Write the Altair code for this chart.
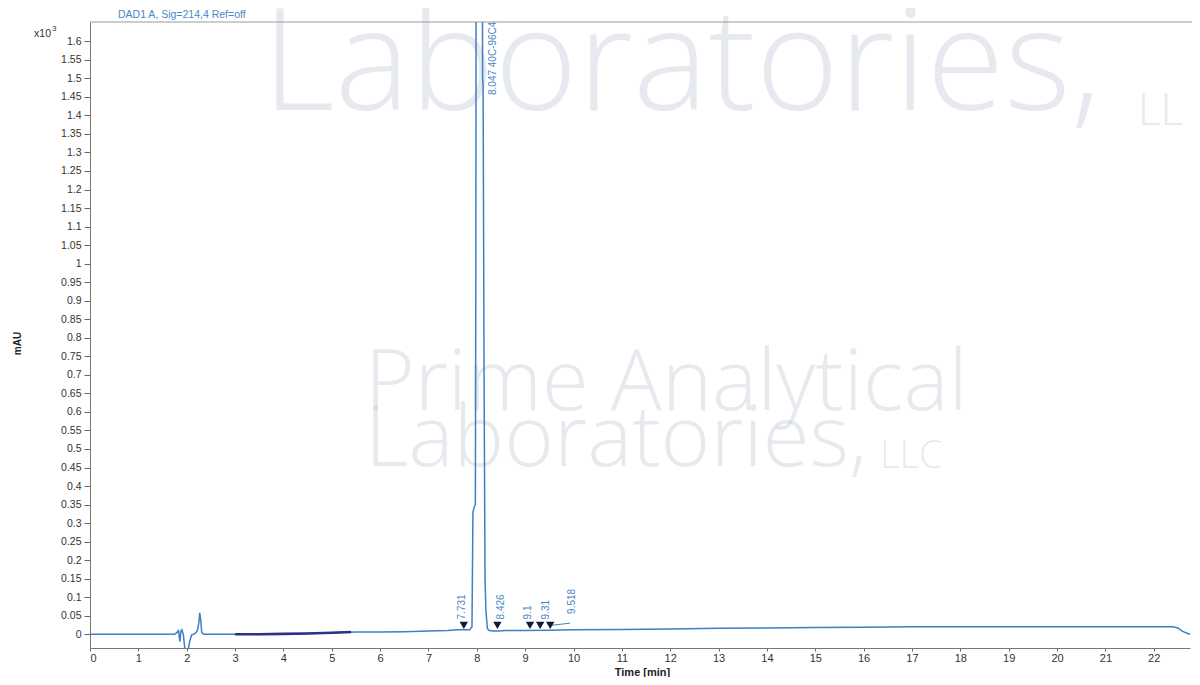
import altair as alt
import pandas as pd

# ---- chromatogram trace (time in min, signal in x10^3 mAU) ----
time_min = [0.0, 1.75, 1.80, 1.83, 1.86, 1.88, 1.90, 1.93, 1.97, 2.02, 2.06, 2.10,
            2.14, 2.18, 2.22, 2.25, 2.27, 2.29, 2.31, 2.35, 2.6, 3.0, 3.5, 4.0,
            4.5, 5.0, 5.5, 6.0, 6.5, 7.0, 7.4, 7.6, 7.75, 7.85, 7.90, 7.92, 7.95,
            7.97, 7.98, 7.99, 8.05, 8.10, 8.12, 8.13, 8.15, 8.17, 8.19, 8.22, 8.26,
            8.35, 8.45, 8.6, 9.0, 9.5, 10.0, 11.0, 12.0, 13.0, 14.0, 15.0, 16.0,
            17.0, 18.0, 19.0, 20.0, 21.0, 22.0, 22.4, 22.5, 22.6, 22.7, 22.75]
signal = [0.0, 0.0, 0.005, 0.01, -0.02, 0.008, 0.012, 0.0, -0.05, -0.05, -0.02, -0.002,
          0.0, 0.003, 0.01, 0.03, 0.058, 0.04, 0.005, 0.0, 0.0, 0.0, 0.0, 0.001,
          0.002, 0.004, 0.006, 0.006, 0.007, 0.009, 0.010, 0.012, 0.012, 0.012, 0.02, 0.33, 0.345,
          0.35, 1.0, 2.5, 3.0, 2.5, 1.5, 1.48, 0.7, 0.15, 0.06, 0.015, 0.010,
          0.009, 0.009, 0.010, 0.010, 0.011, 0.012, 0.013, 0.014, 0.016, 0.017, 0.018, 0.019,
          0.020, 0.020, 0.020, 0.020, 0.020, 0.020, 0.020, 0.017, 0.008, 0.002, 0.0]

# darker overlaid stretch of baseline
seg_time = [3.0, 3.5, 4.0, 4.5, 5.0, 5.4]
seg_signal = [0.0, 0.0, 0.001, 0.002, 0.004, 0.006]

# ---- integration events ----
peak_rt = [7.731, 8.426, 9.1, 9.31, 9.518]
peak_text = ["7.731", "8.426", "9.1", "9.31", "9.518"]
marker_level = [0.024, 0.024, 0.024, 0.024, 0.024]
label_rt = [7.70, 8.50, 9.05, 9.44, 9.96]
label_level = [0.040, 0.040, 0.040, 0.040, 0.055]

leader_t = [9.53]
leader_t2 = [9.93]
leader_v = [0.024]
leader_v2 = [0.030]

main_rt = [8.33]
main_text = ["8.047 40C-96C4"]
main_level = [1.455]

# ---- axes ----
x_ticks = [0, 1, 2, 3, 4, 5, 6, 7, 8, 9, 10, 11, 12, 13, 14, 15, 16, 17, 18, 19, 20, 21, 22]
y_ticks = [0.0, 0.05, 0.1, 0.15, 0.2, 0.25, 0.3, 0.35, 0.4, 0.45, 0.5, 0.55, 0.6, 0.65,
           0.7, 0.75, 0.8, 0.85, 0.9, 0.95, 1.0, 1.05, 1.1, 1.15, 1.2, 1.25, 1.3,
           1.35, 1.4, 1.45, 1.5, 1.55, 1.6]

header = ["DAD1 A, Sig=214,4 Ref=off"]
watermark_top = ["Laboratories,"]
watermark_top_ll = ["LL"]
watermark_mid1 = ["Prime Analytical"]
watermark_mid2 = ["Laboratories,"]
watermark_llc = ["LLC"]

W, H = 1100, 626
BLUE = "#3f7fc4"
LABEL_BLUE = "#4a86c8"
FONT = "Liberation Sans"

xs = alt.Scale(domain=[0, 22.75], nice=False, zero=False)
ys = alt.Scale(domain=[-0.037, 1.652], nice=False, zero=False)

x_axis = alt.Axis(values=x_ticks, title="Time [min]", grid=False,
                  labelFont=FONT, labelFontSize=11, labelColor="#333",
                  tickSize=3, tickColor="#666", domainColor="#777",
                  labelPadding=1, titleFont=FONT, titleFontSize=11,
                  titleFontWeight="bold", titleColor="#222",
                  titleX=552, titleY=29, titleBaseline="bottom",
                  titleAlign="center")
y_axis = alt.Axis(values=y_ticks, format=".2~f", title="mAU", grid=False,
                  labelFont=FONT, labelFontSize=10.5, labelColor="#333",
                  tickSize=6, tickColor="#666", domainColor="#777",
                  labelPadding=3, labelOverlap=False, labelBound=False,
                  titleFont=FONT, titleFontSize=10, titleFontWeight="bold",
                  titleColor="#222", titleX=-68, titleY=321)

trace_df = pd.DataFrame({"t": time_min, "v": signal})
seg_df = pd.DataFrame({"t": seg_time, "v": seg_signal})
peaks_df = pd.DataFrame({"t": peak_rt, "v": marker_level, "lt": label_rt,
                         "lv": label_level, "label": peak_text})
leader_df = pd.DataFrame({"t": leader_t, "t2": leader_t2, "v": leader_v, "v2": leader_v2})
main_df = pd.DataFrame({"t": main_rt, "v": main_level, "label": main_text})


def X(field):
    return alt.X(field, scale=xs, axis=x_axis)


def Y(field):
    return alt.Y(field, scale=ys, axis=y_axis)


def wm(text, x, y, size, weight=300, opacity=0.33, color="#b4c2cf"):
    return alt.Chart(pd.DataFrame({"s": text})).mark_text(
        font="Open Sans", fontSize=size, fontWeight=weight, align="left",
        baseline="alphabetic", color=color, opacity=opacity
    ).encode(x=alt.value(x), y=alt.value(y), text="s:N")


wm_layers = [
    wm(watermark_top, 172, 88, 142),
    wm(watermark_top_ll, 1048, 103, 44),
    wm(watermark_mid1, 275, 388, 85),
    wm(watermark_mid2, 275, 444, 85),
    wm(watermark_llc, 790, 446, 38),
]

top_rule = alt.Chart(pd.DataFrame({"a": [0]})).mark_rule(color="#9a9a9a", strokeWidth=1).encode(
    x=alt.value(0), x2=alt.value(W + 2), y=alt.value(0)
)

trace = alt.Chart(trace_df).mark_line(color=BLUE, strokeWidth=1.5, clip=True).encode(
    x=X("t:Q"), y=Y("v:Q"), order="t:Q"
)

seg = alt.Chart(seg_df).mark_line(color="#2d2f8a", strokeWidth=2.6, clip=True).encode(
    x=X("t:Q"), y=Y("v:Q"), order="t:Q"
)

markers = alt.Chart(peaks_df).mark_point(shape="triangle-down", filled=True, size=70,
                                          color="#15183a", opacity=1).encode(
    x=X("t:Q"), y=Y("v:Q")
)

labels = alt.Chart(peaks_df).mark_text(angle=270, align="left", baseline="middle",
                                        font=FONT, fontSize=10, color=LABEL_BLUE).encode(
    x=X("lt:Q"), y=Y("lv:Q"), text="label:N"
)

leader = alt.Chart(leader_df).mark_rule(color=BLUE, strokeWidth=1).encode(
    x=X("t:Q"), x2="t2:Q", y=Y("v:Q"), y2="v2:Q"
)

main_label = alt.Chart(main_df).mark_text(angle=270, align="left", baseline="middle",
                                           font=FONT, fontSize=10, color=LABEL_BLUE).encode(
    x=X("t:Q"), y=Y("v:Q"), text="label:N"
)

hdr = alt.Chart(pd.DataFrame({"s": header})).mark_text(
    font=FONT, fontSize=10.5, color=LABEL_BLUE, align="left", baseline="middle"
).encode(x=alt.value(28), y=alt.value(-7), text="s:N")

x10 = alt.Chart(pd.DataFrame({"s": ["x10"]})).mark_text(
    font=FONT, fontSize=10.5, color="#333", align="right", baseline="middle"
).encode(x=alt.value(-39), y=alt.value(12), text="s:N")
x10e = alt.Chart(pd.DataFrame({"s": ["3"]})).mark_text(
    font=FONT, fontSize=8, color="#333", align="left", baseline="middle"
).encode(x=alt.value(-38), y=alt.value(7), text="s:N")

chart = alt.layer(
    *wm_layers, top_rule, trace, seg, leader, markers, labels, main_label, hdr, x10, x10e
).properties(
    width=W, height=H,
    autosize=alt.AutoSizeParams(type="none"),
    padding={"left": 82, "top": 14, "right": 2, "bottom": 29},
    background="white",
).configure_view(stroke=None)

chart.save("out.html", embed_options={"renderer": "svg", "actions": False})
